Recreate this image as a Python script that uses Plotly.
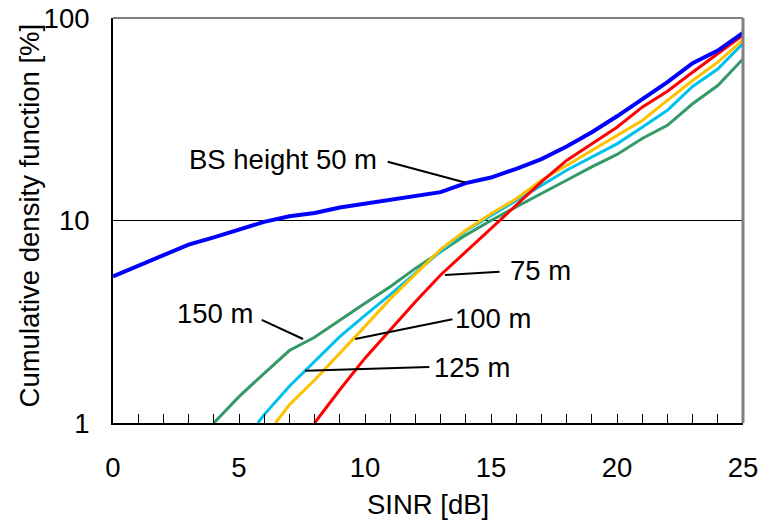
import math
import plotly.graph_objects as go

# ---- data ----
sinr_50 = list(range(0, 26))
cdf_50 = [5.3, 6.0, 6.75, 7.6, 8.25, 9.0, 9.85, 10.5, 10.9, 11.6, 12.1, 12.6, 13.2,
          13.8, 15.3, 16.3, 18.0, 20.1, 23.2, 27.3, 32.7, 39.6, 48.2, 59.8, 69.0, 84.4]

sinr_75 = [8, 9, 10, 11, 12, 13, 14, 15, 16, 17, 18, 19, 20, 21, 22, 23, 24, 25]
cdf_75 = [1.0, 1.46, 2.09, 2.88, 3.97, 5.38, 7.0, 9.1, 11.9, 15.5, 19.8, 23.9,
          28.9, 36.3, 43.5, 54.0, 66.5, 82.4]

sinr_100 = [6.45, 7, 8, 9, 10, 11, 12, 13, 14, 15, 16, 17, 18, 19, 20, 21, 22, 23, 24, 25]
cdf_100 = [1.0, 1.23, 1.63, 2.2, 3.0, 4.1, 5.45, 7.2, 8.96, 10.8, 12.8, 15.8,
           18.7, 22.2, 26.3, 31.2, 39.2, 49.1, 60.5, 78.0]

sinr_125 = [5.75, 6, 7, 8, 9, 10, 11, 12, 13, 14, 15, 16, 17, 18, 19, 20, 21, 22, 23, 24, 25]
cdf_125 = [1.0, 1.1, 1.52, 2.02, 2.67, 3.4, 4.3, 5.5, 7.05, 8.9, 10.6, 12.6,
           14.9, 17.7, 20.6, 23.9, 28.9, 35.0, 45.9, 56.0, 75.0]

sinr_150 = [4, 5, 6, 7, 8, 9, 10, 11, 12, 13, 14, 15, 16, 17, 18, 19, 20, 21, 22, 23, 24, 25]
cdf_150 = [1.0, 1.35, 1.76, 2.28, 2.65, 3.23, 3.90, 4.71, 5.80, 7.01, 8.47, 10.0,
           11.7, 13.6, 15.8, 18.4, 21.2, 25.4, 29.5, 37.7, 46.4, 62.8]

x_tick_vals = list(range(0, 26))
x_tick_text = [str(v) if v % 5 == 0 else "" for v in x_tick_vals]
y_tick_vals = [1, 10, 100]
y_tick_text = ["1", "10", "100"]

# labels: (text, text x, text y, leader start x, y, leader end x, y)
labels = [
    ("BS height 50 m", 6.74, 20.0, 10.9, 19.5, 13.97, 15.4),
    ("75 m", 16.97, 5.65, 15.34, 5.58, 13.17, 5.38),
    ("100 m", 15.09, 3.29, 13.47, 3.25, 9.61, 2.60),
    ("125 m", 14.25, 1.87, 12.55, 1.89, 7.62, 1.81),
    ("150 m", 4.06, 3.46, 5.90, 3.23, 7.54, 2.60),
]

FONT = "Liberation Sans, Arial, sans-serif"
FS = 27.5

fig = go.Figure()
series = [
    (sinr_150, cdf_150, "#339966", 3, "150 m"),
    (sinr_125, cdf_125, "#00C0F0", 3, "125 m"),
    (sinr_100, cdf_100, "#FFC000", 3, "100 m"),
    (sinr_75, cdf_75, "#FF0000", 3, "75 m"),
    (sinr_50, cdf_50, "#0000FF", 4, "50 m"),
]
for xs, ys, col, w, name in series:
    fig.add_trace(go.Scatter(x=xs, y=ys, mode="lines", name=name,
                             line=dict(color=col, width=w), showlegend=False))

for text, tx, ty, x0, y0, x1, y1 in labels:
    fig.add_trace(go.Scatter(x=[x0, x1], y=[y0, y1], mode="lines",
                             line=dict(color="black", width=2), showlegend=False,
                             hoverinfo="skip"))
    fig.add_annotation(x=tx, y=math.log10(ty), text=text, showarrow=False,
                       font=dict(family=FONT, size=FS, color="black"),
                       xanchor="center", yanchor="middle")

# top/right gray frame
fig.add_shape(type="line", xref="paper", yref="paper", x0=0, x1=1, y0=1, y1=1,
              line=dict(color="#808080", width=2))
fig.add_shape(type="line", xref="paper", yref="paper", x0=1, x1=1, y0=0, y1=1,
              line=dict(color="#808080", width=3))

fig.add_annotation(text="SINR [dB]", xref="paper", yref="paper", x=0.5, y=-0.202,
                   showarrow=False, xanchor="center", yanchor="middle",
                   font=dict(family=FONT, size=FS, color="black"))
fig.add_annotation(text="Cumulative density function [%]", xref="paper", yref="paper",
                   x=-0.133, y=0.513, textangle=-90, showarrow=False,
                   xanchor="center", yanchor="middle",
                   font=dict(family=FONT, size=FS, color="black"))

fig.update_xaxes(range=[0, 25], tickvals=x_tick_vals, ticktext=x_tick_text,
                 ticks="inside", ticklen=9, tickwidth=1, tickcolor="black",
                 showline=True, linecolor="black", linewidth=2, mirror=False,
                 showgrid=False, zeroline=False, ticklabelstandoff=19,
                 automargin=False,
                 tickfont=dict(family=FONT, size=FS, color="black"))
fig.update_yaxes(type="log", range=[0, 2], tickvals=y_tick_vals, ticktext=y_tick_text,
                 ticks="", showline=True, linecolor="black", linewidth=2, mirror=False,
                 showgrid=True, gridcolor="black", gridwidth=1, zeroline=False,
                 ticklabelstandoff=16, automargin=False,
                 tickfont=dict(family=FONT, size=FS, color="black"))

fig.update_layout(width=769, height=521, margin=dict(l=113, r=26, t=18, b=98),
                  paper_bgcolor="white", plot_bgcolor="white",
                  font=dict(family=FONT, color="black"))

fig.write_html("out.html", config={"displayModeBar": False},
               post_script="document.body.style.margin='0';"
                           "document.body.style.overflow='hidden';")
